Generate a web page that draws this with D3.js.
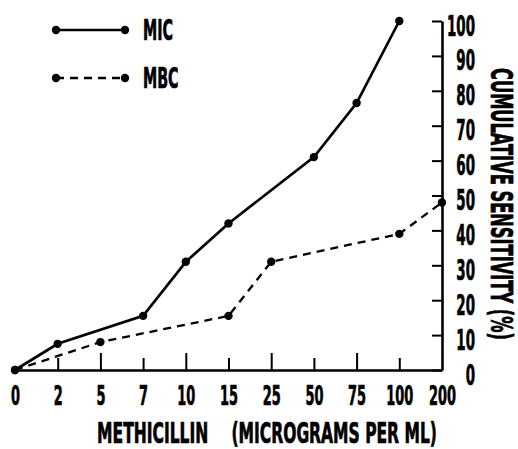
<!DOCTYPE html>
<html><head><meta charset="utf-8">
<script src="https://cdn.jsdelivr.net/npm/d3@7"></script>
<style>
html,body{margin:0;padding:0;background:#fff;}
text{font-family:"Liberation Sans Narrow","DejaVu Sans Condensed","Liberation Sans",sans-serif;font-weight:bold;fill:#000;stroke:#000;stroke-width:0.7px;}
</style></head>
<body><svg id="c" width="518" height="449"></svg>
<script>
const categories = ["0","2","5","7","10","15","25","50","75","100","200"];
const micDoses = ["0","2","7","10","15","50","75","100"];
const micValues = [0,7.5,15.5,31,42,61,76.5,100];
const mbcDoses = ["0","5","15","25","100","200"];
const mbcValues = [0,8,15.5,31,39,48];
const yTicks = [0,10,20,30,40,50,60,70,80,90,100];
const seriesNames = ["MIC","MBC"];
const xTitle = "METHICILLIN\u2003\u2002(MICROGRAMS PER ML)";
const yTitle = "CUMULATIVE SENSITIVITY (%)";

const svg = d3.select("#c");
const x = d3.scalePoint().domain(categories).range([15, 442]);
const y = d3.scaleLinear().domain([0,100]).range([370, 21]);

const ctx = document.createElement("canvas").getContext("2d");
ctx.font = 'bold 100px "Liberation Sans Narrow","DejaVu Sans Condensed","Liberation Sans",sans-serif';
const capRatio = (ctx.measureText("M").actualBoundingBoxAscent || 73) / 100;
// font size giving a wanted cap height
const fsFor = cap => cap / capRatio;

// horizontal squeeze so that a sample string reaches a wanted width
function squeeze(fontSize, sample, wanted){
  const t = svg.append("text").attr("font-size",fontSize).text(sample);
  const w = t.node().getComputedTextLength();
  t.remove();
  return wanted / w;
}

// x axis
const fx = fsFor(19);
const sx = squeeze(fx, "100", 27);
const xa = svg.append("g").attr("transform","translate(0,370)")
  .call(d3.axisBottom(x).tickSizeInner(-12).tickSizeOuter(0).tickPadding(0));
xa.select(".domain").attr("stroke","#000").attr("stroke-width",2.6);
xa.selectAll(".tick line").attr("stroke","#000").attr("stroke-width",2)
  .attr("y2",(d,i)=> (i===0||i===categories.length-1)?0:(i%2===0?-17:-12));
xa.selectAll(".tick text").attr("font-size",fx).attr("dy",0).attr("y",0)
  .attr("transform",`translate(0,35) scale(${sx},1)`);

// y axis
const fy = fsFor(20.5);
const sy = squeeze(fy, "100", 28);
const ya = svg.append("g").attr("transform","translate(442,0)")
  .call(d3.axisRight(y).tickValues(yTicks).tickSizeInner(-10).tickSizeOuter(0).tickPadding(0));
ya.select(".domain").attr("stroke","#000").attr("stroke-width",2.6);
ya.selectAll(".tick line").attr("stroke","#000").attr("stroke-width",2);
ya.selectAll(".tick text").attr("font-size",fy).attr("x",0).attr("dy",0)
  .attr("text-anchor","end")
  .attr("transform",`translate(33,14) scale(${sy},1)`);

// lines
const line = d3.line().x(d=>x(d[0])).y(d=>y(d[1]));
const mic = micDoses.map((d,i)=>[d,micValues[i]]);
const mbc = mbcDoses.map((d,i)=>[d,mbcValues[i]]);
svg.append("path").datum(mbc).attr("d",line).attr("fill","none")
  .attr("stroke","#000").attr("stroke-width",2.3).attr("stroke-dasharray","8,6");
svg.append("path").datum(mic).attr("d",line).attr("fill","none")
  .attr("stroke","#000").attr("stroke-width",2.7);
svg.selectAll(".pm").data(mic.concat(mbc)).join("circle")
  .attr("cx",d=>x(d[0])).attr("cy",d=>y(d[1])).attr("r",4.2).attr("fill","#000");

// legend
const fl = fsFor(20.5);
const sl = squeeze(fl, "MIC", 30);
const leg = [{name:seriesNames[0],dash:null,yy:30},{name:seriesNames[1],dash:"8,6",yy:78}];
leg.forEach(l=>{
  const g = svg.append("g");
  g.append("line").attr("x1",56).attr("x2",125).attr("y1",l.yy).attr("y2",l.yy)
    .attr("stroke","#000").attr("stroke-width",l.dash?2.3:2.7).attr("stroke-dasharray",l.dash);
  g.append("circle").attr("cx",56).attr("cy",l.yy).attr("r",4.2);
  g.append("circle").attr("cx",125).attr("cy",l.yy).attr("r",4.2);
  g.append("text").text(l.name).attr("font-size",fl)
    .attr("transform",`translate(143,${l.yy+10}) scale(${sl},1)`);
});

// titles
const ftx = fsFor(20.5);
const stx = squeeze(ftx, xTitle, 340);
svg.append("text").text(xTitle).attr("font-size",ftx).attr("text-anchor","middle")
  .attr("transform",`translate(267,443) scale(${stx},1)`);
const fty = fsFor(22);
const sty = squeeze(fty, yTitle, 272);
svg.append("text").text(yTitle).attr("font-size",fty).attr("text-anchor","middle")
  .attr("transform",`translate(491,204) rotate(90) scale(${sty},1)`);
</script></body></html>
